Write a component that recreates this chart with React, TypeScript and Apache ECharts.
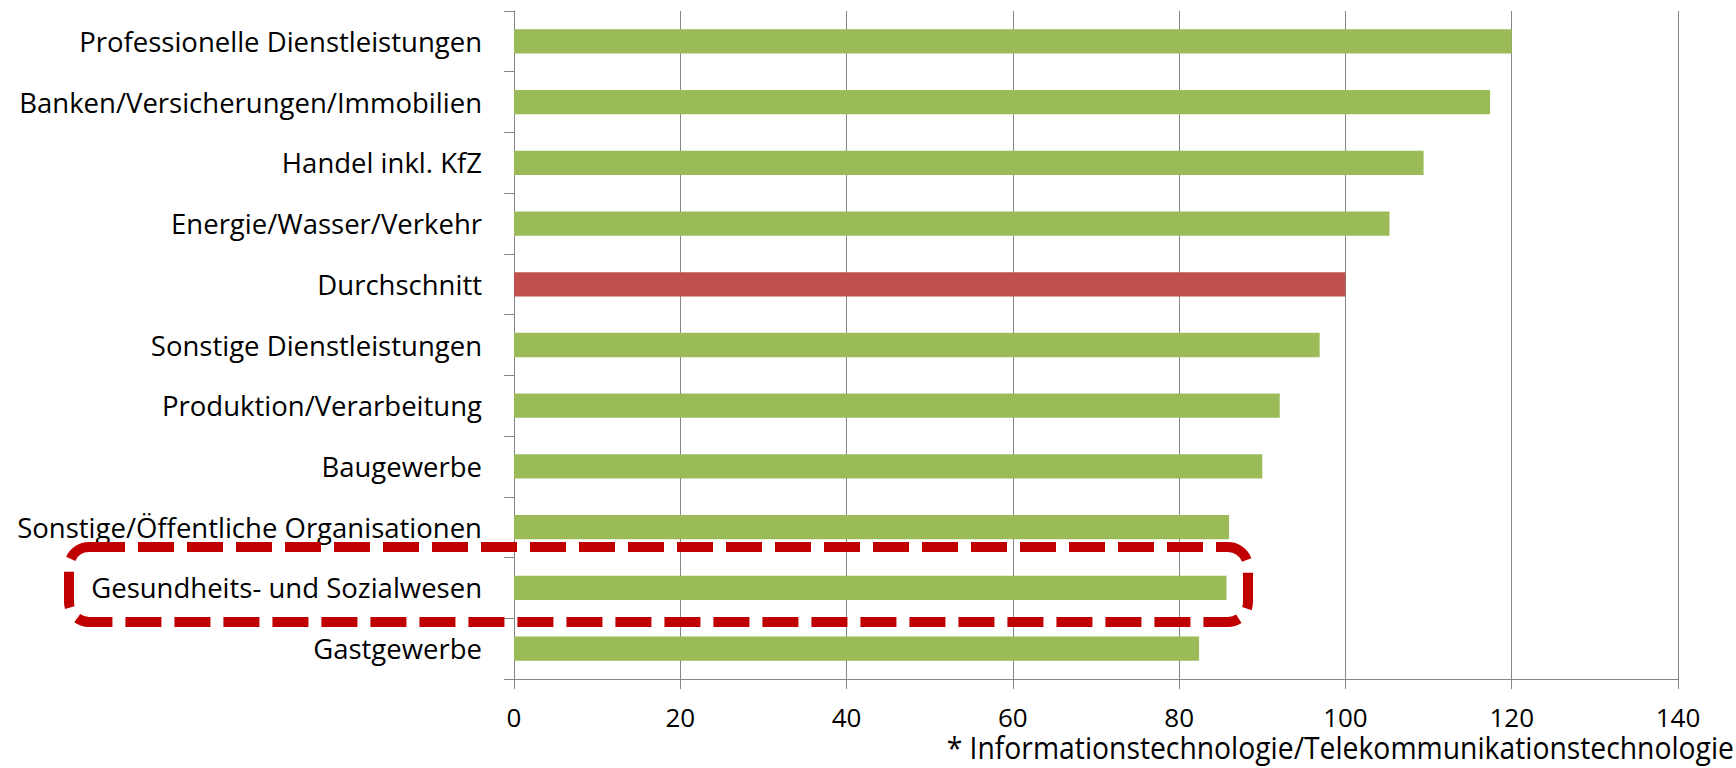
import React, { useEffect, useRef } from "react";
import * as echarts from "echarts";

// Branchen, von oben nach unten
const categories: string[] = [
  "Professionelle Dienstleistungen",
  "Banken/Versicherungen/Immobilien",
  "Handel inkl. KfZ",
  "Energie/Wasser/Verkehr",
  "Durchschnitt",
  "Sonstige Dienstleistungen",
  "Produktion/Verarbeitung",
  "Baugewerbe",
  "Sonstige/Öffentliche Organisationen",
  "Gesundheits- und Sozialwesen",
  "Gastgewerbe",
];

// Index (Durchschnitt = 100)
const values: number[] = [120, 117.4, 109.4, 105.3, 100, 96.9, 92.1, 90.0, 86.0, 85.7, 82.4];

const averageCategory = "Durchschnitt";
const xMin = 0;
const xMax = 140;
const xStep = 20;
const footnote = "* Informationstechnologie/Telekommunikationstechnologie";

const GREEN = "#9BBB59";
const RED = "#C0504D";
const GRID_GRAY = "#868686";
const FONT = "'Open Sans'";

export default function App() {
  const ref = useRef<HTMLDivElement>(null);

  useEffect(() => {
    if (!ref.current) return;
    const chart = echarts.init(ref.current, undefined, { renderer: "svg" });

    const barData = categories.map((c, i) => ({
      value: values[i],
      itemStyle: { color: c === averageCategory ? RED : GREEN },
    }));

    chart.setOption({
      animation: false,
      backgroundColor: "#ffffff",
      grid: { left: 514, right: 58, top: 11, bottom: 89, containLabel: false },
      xAxis: {
        type: "value",
        min: xMin,
        max: xMax,
        interval: xStep,
        axisLine: { show: true, lineStyle: { color: GRID_GRAY, width: 1 } },
        axisTick: { show: true, length: 10, lineStyle: { color: GRID_GRAY, width: 1 } },
        splitLine: { show: true, lineStyle: { color: GRID_GRAY, width: 1 } },
        axisLabel: { color: "#000", fontFamily: FONT, fontSize: 26, margin: 25 },
      },
      yAxis: {
        type: "category",
        inverse: true,
        data: categories,
        axisLine: { show: true, lineStyle: { color: GRID_GRAY, width: 1 } },
        axisTick: { show: true, length: 10, lineStyle: { color: GRID_GRAY, width: 1 } },
        axisLabel: { color: "#000", fontFamily: FONT, fontSize: 27.5, margin: 32 },
      },
      series: [
        {
          type: "bar",
          data: barData,
          barCategoryGap: "60%",
        },
      ],
      graphic: [
        {
          type: "rect",
          z: 100,
          shape: { x: 69, y: 547, width: 1179, height: 75, r: 20 },
          style: {
            fill: "none",
            stroke: "#C00000",
            lineWidth: 10,
            lineDash: [36, 13],
          },
        },
        {
          type: "text",
          z: 100,
          x: 1734,
          y: 747,
          scaleY: 1.12,
          style: {
            text: footnote,
            fill: "#000",
            font: `28.3px ${FONT}`,
            textAlign: "right",
            textVerticalAlign: "middle",
          },
        },
      ],
    });

    return () => chart.dispose();
  }, []);

  return (
    <div
      ref={ref}
      style={{ position: "fixed", left: 0, top: 0, width: 1736, height: 768, background: "#fff" }}
    />
  );
}
